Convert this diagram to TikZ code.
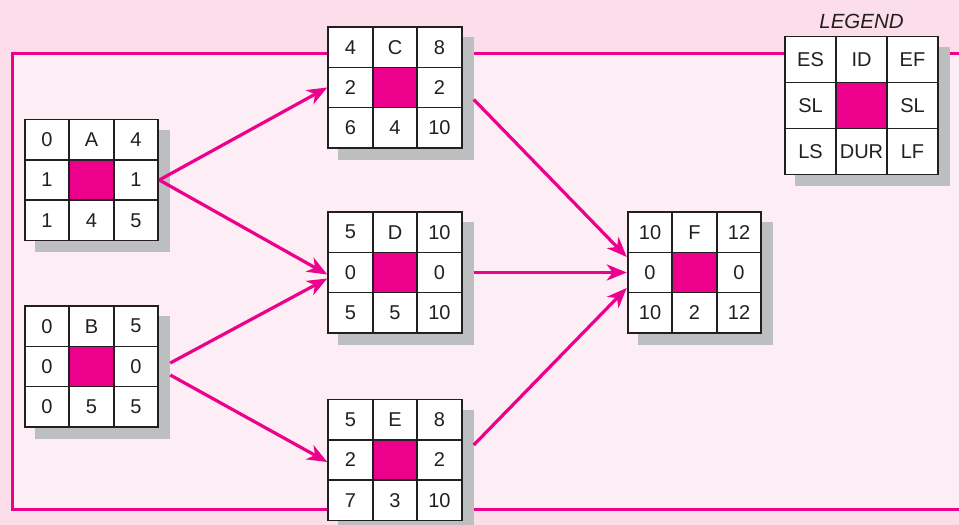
\documentclass[tikz,border=0pt]{standalone}
\usepackage{fontspec}
\setmainfont{Liberation Sans}
\usetikzlibrary{arrows.meta,positioning,matrix,shadows}
\definecolor{pinkout}{RGB}{251,222,233}
\definecolor{pinkin}{RGB}{253,237,244}
\definecolor{mag}{RGB}{236,0,140}
\definecolor{shadowgray}{RGB}{188,190,192}
\definecolor{gridline}{RGB}{35,31,32}

\begin{document}
\begin{tikzpicture}[
  x=1pt, y=1pt, font=\fontsize{20}{22}\selectfont,
  act/.style={matrix of nodes, nodes in empty cells, inner sep=0pt,
    column sep=-1.6pt, row sep=-1.6pt,
    general shadow={fill=shadowgray, shadow xshift=11pt, shadow yshift=-11pt},
    nodes={draw=gridline, line width=1.6pt, fill=white, text=gridline,
      minimum width=44.5pt, minimum height=40.3pt, inner sep=0pt, anchor=center},
    row 2 column 2/.style={nodes={fill=mag}}},
  pf/.style={draw=mag, line width=3.2pt, -{Stealth[length=20pt, width=16pt, inset=6pt]}}
]
\clip (0,0) rectangle (959,-525);
\fill[pinkout] (0,0) rectangle (959,-525);
\fill[pinkin] (12,-53) rectangle (965,-509);
\draw[mag, line width=3pt] (965,-53) -| (12,-509) -- (965,-509);

% activity boxes
\matrix (A) at (91.5,-180) [act] {0 & A & 4\\ 1 & & 1\\ 1 & 4 & 5\\};
\matrix (B) at (91.5,-366.5) [act] {0 & B & 5\\ 0 & & 0\\ 0 & 5 & 5\\};
\matrix (C) at (395,-87.5) [act] {4 & C & 8\\ 2 & & 2\\ 6 & 4 & 10\\};
\matrix (D) at (395,-272.5) [act] {5 & D & 10\\ 0 & & 0\\ 5 & 5 & 10\\};
\matrix (E) at (395,-460) [act] {5 & E & 8\\ 2 & & 2\\ 7 & 3 & 10\\};
\matrix (F) at (694.5,-272.5) [act] {10 & F & 12\\ 0 & & 0\\ 10 & 2 & 12\\};

% legend
\matrix (key) at (861.5,-105.5) [act, nodes={minimum width=51pt, minimum height=46pt}]
  {ES & ID & EF\\ SL & & SL\\ LS & DUR & LF\\};
\node[above=3pt of key, font=\fontsize{20.5}{22}\selectfont\itshape, text=gridline] (leg) {LEGEND};

\draw[pf] (A.east) -- (C.west);
\draw[pf] (A.east) -- ([yshift=-2pt]D.west);
\draw[pf] ([xshift=11pt,yshift=3.5pt]B.east) -- ([yshift=-6pt]D.west);
\draw[pf] ([xshift=11pt,yshift=-8.5pt]B.east) -- ([yshift=-2pt]E.west);
\draw[pf] ([xshift=11pt,yshift=-12pt]C.east) -- ([yshift=15.5pt]F.west);
\draw[pf] ([xshift=11pt]D.east) -- (F.west);
\draw[pf] ([xshift=11pt,yshift=15pt]E.east) -- ([yshift=-15.5pt]F.west);
\end{tikzpicture}
\end{document}
